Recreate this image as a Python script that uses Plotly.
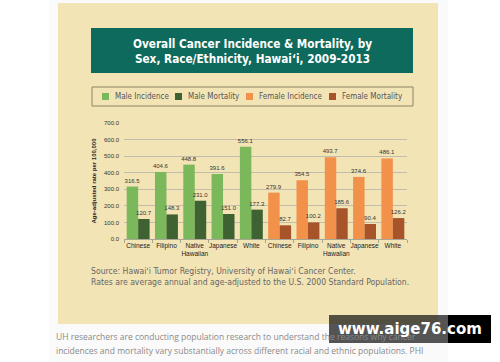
import plotly.graph_objects as go

groups = ["Chinese", "Filipino", "Native<br>Hawaiian", "Japanese", "White"]
series_names = ["Male Incidence", "Male Mortality", "Female Incidence", "Female Mortality"]
male_incidence = [316.5, 404.6, 448.8, 391.6, 556.1]
male_mortality = [120.7, 148.3, 231.0, 151.0, 177.3]
female_incidence = [279.9, 354.5, 493.7, 374.6, 486.1]
female_mortality = [82.7, 100.2, 185.6, 90.4, 126.2]
y_ticks = [0, 100, 200, 300, 400, 500, 600, 700]

colors = ["#7bb75b", "#3e6232", "#f2914a", "#a7542b"]
TAN = "#f3e4b5"

male_x = list(range(len(groups)))
female_x = [i + len(groups) for i in range(len(groups))]
tick_text = groups + groups

fig = go.Figure()
specs = [
    (male_x, male_incidence, "inc"),
    (male_x, male_mortality, "mort"),
    (female_x, female_incidence, "inc"),
    (female_x, female_mortality, "mort"),
]
for (xs, ys, og), name, col in zip(specs, series_names, colors):
    fig.add_trace(go.Bar(
        x=xs, y=ys, name=name, offsetgroup=og,
        marker=dict(color=col, line=dict(width=0)),
        text=[f"{v:.1f}" for v in ys], textposition="outside",
        constraintext="none", cliponaxis=False,
        textfont=dict(family="Liberation Sans", size=6, color="#333333"),
        showlegend=False,
    ))

W, H = 500, 362
L, R, T, B = 124, 407, 123, 239

def px(x):
    return (x - L) / (R - L)

def py(y):
    return (B - y) / (B - T)

shapes = []
# page card and tan panel
shapes.append(dict(type="rect", xref="paper", yref="paper", x0=px(49), x1=px(448), y0=py(362), y1=py(0),
                   fillcolor="#fafafa", line=dict(width=0), layer="below"))
shapes.append(dict(type="rect", xref="paper", yref="paper", x0=px(58), x1=px(438), y0=py(324), y1=py(3),
                   fillcolor=TAN, line=dict(width=0), layer="below"))
# title box
shapes.append(dict(type="rect", xref="paper", yref="paper", x0=px(91), x1=px(413), y0=py(73), y1=py(28),
                   fillcolor="#0e6a5c", line=dict(width=0), layer="below"))
# legend box
shapes.append(dict(type="rect", xref="paper", yref="paper", x0=px(92), x1=px(413), y0=py(106), y1=py(87),
                   fillcolor="rgba(0,0,0,0)", line=dict(width=1, color="#8d8466"), layer="below"))

annotations = []
annotations.append(dict(xref="paper", yref="paper", x=px(252), y=py(51), xanchor="center", yanchor="middle",
                        text="<b>Overall Cancer Incidence &amp; Mortality, by<br>Sex, Race/Ethnicity, Hawai\u02bbi, 2009-2013</b>",
                        showarrow=False, align="center",
                        font=dict(family="DejaVu Sans Condensed", size=11.7, color="white")))

# legend entries
leg_sq = [102, 175, 246, 329]
for sq, name, col in zip(leg_sq, series_names, colors):
    shapes.append(dict(type="rect", xref="paper", yref="paper", x0=px(sq), x1=px(sq + 7),
                       y0=py(100), y1=py(93), fillcolor=col, line=dict(width=0)))
    annotations.append(dict(xref="paper", yref="paper", x=px(sq + 11), y=py(96.5), xanchor="left",
                            yanchor="middle", text=name, showarrow=False,
                            font=dict(family="DejaVu Sans Condensed", size=8, color="#555555")))

# source
annotations.append(dict(xref="paper", yref="paper", x=px(89), y=py(276), xanchor="left", yanchor="middle",
                        text="Source: Hawai\u02bbi Tumor Registry, University of Hawai\u02bbi Cancer Center.<br>"
                             "Rates are average annual and age-adjusted to the U.S. 2000 Standard Population.",
                        showarrow=False, align="left",
                        font=dict(family="DejaVu Sans Condensed", size=8.6, color="#666666")))

# page text below
page_lines = [
    "UH researchers are conducting population research to understand the reasons why cancer",
    "incidences and mortality vary substantially across different racial and ethnic populations. PHI",
]
for yy, line in zip([336, 350], page_lines):
    annotations.append(dict(xref="paper", yref="paper", x=px(54), y=py(yy), xanchor="left", yanchor="middle",
                            text=line, showarrow=False, align="left",
                            font=dict(family="Open Sans", size=8.5, color="#8a8a8a")))

# watermark
shapes.append(dict(type="rect", xref="paper", yref="paper", x0=px(329), x1=px(448), y0=py(343), y1=py(315),
                   fillcolor="rgba(20,20,20,0.72)", line=dict(width=0), layer="above"))
shapes.append(dict(type="rect", xref="paper", yref="paper", x0=px(448), x1=px(491), y0=py(343), y1=py(315),
                   fillcolor="#000000", line=dict(width=0), layer="above"))
annotations.append(dict(xref="paper", yref="paper", x=px(410), y=py(329), xanchor="center", yanchor="middle",
                        text="<b>www.aige76.com</b>", showarrow=False,
                        font=dict(family="DejaVu Sans", size=15, color="white")))

fig.update_layout(
    width=W, height=H,
    margin=dict(l=L, r=W - R, t=T, b=H - B, pad=0),
    paper_bgcolor="white", plot_bgcolor="rgba(0,0,0,0)",
    barmode="group", bargap=0.19, bargroupgap=0,
    shapes=shapes, annotations=annotations,
    showlegend=False,
    xaxis=dict(range=[-0.5, 9.5], tickmode="array", tickvals=male_x + female_x, ticktext=tick_text,
               tickangle=0,
               showgrid=False, showline=True, linecolor="#a9a595", linewidth=1, ticks="",
               tickfont=dict(family="Liberation Sans", size=6.5, color="#222222"),
               minor=dict(tickmode="array", tickvals=[i - 0.5 for i in range(11)], ticks="outside",
                          ticklen=3, tickcolor="#a9a595", showgrid=False),
               automargin=False, fixedrange=True),
    yaxis=dict(range=[0, 700], tickmode="array", tickvals=y_ticks,
               ticktext=[f"{v:.1f}" for v in y_ticks], showgrid=True, gridcolor="#c2bdab", gridwidth=1,
               zeroline=False, showline=False, ticks="", ticklabelstandoff=4,
               tickfont=dict(family="Liberation Sans", size=6, color="#333333"),
               title=dict(text="<b>Age-adjusted rate per 100,000</b>", standoff=6,
                          font=dict(family="Liberation Sans", size=6, color="#222222")),
               automargin=False, fixedrange=True),
)

fig.write_html("out.html", config={"displayModeBar": False},
               post_script="document.body.style.margin='0';")
